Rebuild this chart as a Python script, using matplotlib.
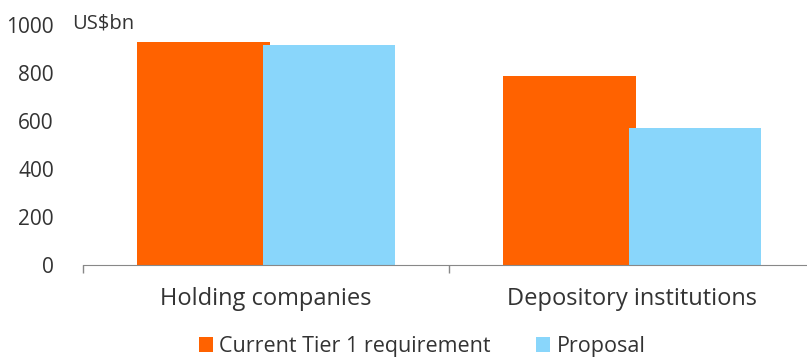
import matplotlib
matplotlib.use('Agg')
import matplotlib.pyplot as plt
import numpy as np

categories = ['Holding companies', 'Depository institutions']
current_tier1 = [929, 789]
proposal = [915, 572]
series_names = ['Current Tier 1 requirement', 'Proposal']

plt.rcParams['font.family'] = ['Open Sans', 'DejaVu Sans']
txt = '#333333'

fig = plt.figure(figsize=(8.07, 3.62), dpi=100)
ax = fig.add_axes([0.1029, 0.268, 0.8971, 0.663])

x = np.arange(len(categories))
w = 0.363
ax.bar(x - 0.172, current_tier1, w, color='#FF6200', label=series_names[0])
ax.bar(x + 0.172, proposal, w, color='#89D6FB', label=series_names[1])

ax.set_xlim(-0.5, 1.478)
ax.set_ylim(0, 1000)
ax.set_yticks([0, 200, 400, 600, 800, 1000])
ax.tick_params(axis='y', length=0, labelsize=15, labelcolor=txt, pad=21)
ax.set_xticks(x)
ax.set_xticklabels(categories)
ax.tick_params(axis='x', length=0, labelsize=17, labelcolor=txt, pad=16)
ax.set_xticks([-0.5, 0.5], minor=True)
ax.tick_params(axis='x', which='minor', length=6, color='#888888', width=1)

for s in ['top', 'right', 'left']:
    ax.spines[s].set_visible(False)
ax.spines['bottom'].set_color('#888888')

fig.text(0.089, 0.935, 'US$bn', fontsize=14.5, color=txt, va='center')

fig.legend(loc='lower center', bbox_to_anchor=(0.523, -0.04), ncol=2, frameon=False,
           fontsize=15.5, handlelength=0.65, handleheight=0.65, handletextpad=0.3,
           columnspacing=2.1, labelcolor=txt)

plt.savefig('out.png', dpi=100)
